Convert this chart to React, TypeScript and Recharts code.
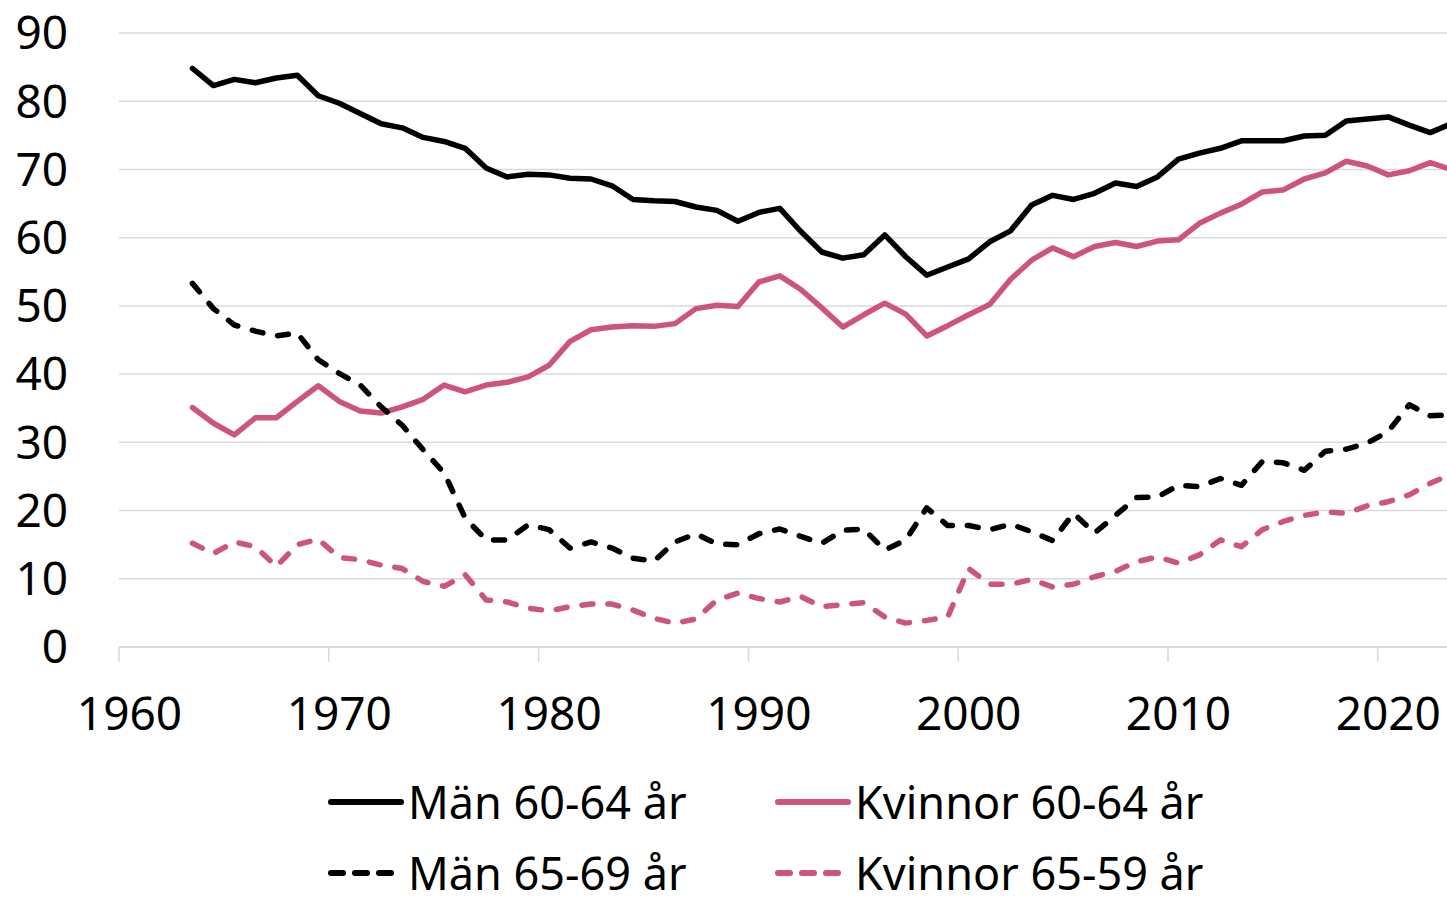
import { LineChart, Line, XAxis, YAxis, CartesianGrid } from 'recharts';

const years = [
  1963, 1964, 1965, 1966, 1967, 1968, 1969, 1970, 1971, 1972,
  1973, 1974, 1975, 1976, 1977, 1978, 1979, 1980, 1981, 1982,
  1983, 1984, 1985, 1986, 1987, 1988, 1989, 1990, 1991, 1992,
  1993, 1994, 1995, 1996, 1997, 1998, 1999, 2000, 2001, 2002,
  2003, 2004, 2005, 2006, 2007, 2008, 2009, 2010, 2011, 2012,
  2013, 2014, 2015, 2016, 2017, 2018, 2019, 2020, 2021, 2022, 2023,
];

const man6064 = [
  84.8, 82.3, 83.2, 82.7, 83.4, 83.8, 80.8, 79.7, 78.2, 76.7,
  76.1, 74.7, 74.1, 73.1, 70.2, 68.9, 69.3, 69.2, 68.7, 68.6,
  67.6, 65.6, 65.4, 65.3, 64.5, 64.0, 62.4, 63.7, 64.3, 60.9,
  57.9, 57.0, 57.5, 60.4, 57.2, 54.5, 55.7, 56.9, 59.4, 61.0,
  64.8, 66.2, 65.6, 66.5, 68.0, 67.5, 68.9, 71.5, 72.4, 73.1,
  74.2, 74.2, 74.2, 74.9, 75.0, 77.1, 77.4, 77.7, 76.5, 75.4, 76.7,
];

const kvinnor6064 = [
  35.1, 32.8, 31.1, 33.6, 33.6, 36.0, 38.3, 36.0, 34.6, 34.3,
  35.2, 36.3, 38.4, 37.4, 38.4, 38.8, 39.6, 41.3, 44.8, 46.5,
  46.9, 47.1, 47.0, 47.4, 49.6, 50.1, 49.9, 53.5, 54.4, 52.4,
  49.7, 46.9, 48.7, 50.4, 48.8, 45.6, 47.1, 48.7, 50.2, 53.9,
  56.7, 58.5, 57.2, 58.7, 59.3, 58.7, 59.5, 59.7, 62.1, 63.6,
  64.9, 66.7, 67.0, 68.6, 69.5, 71.2, 70.5, 69.2, 69.8, 71.0, 70.0,
];

const man6569 = [
  53.3, 49.6, 47.2, 46.3, 45.6, 46.0, 42.1, 40.1, 38.4, 35.2,
  32.5, 28.9, 25.5, 18.9, 15.7, 15.7, 17.9, 17.2, 14.5, 15.4,
  14.5, 13.0, 12.6, 15.4, 16.6, 15.1, 15.0, 16.6, 17.3, 16.2,
  15.2, 17.1, 17.3, 14.2, 15.7, 20.4, 17.8, 17.8, 17.2, 18.0,
  16.9, 15.6, 19.6, 16.7, 19.3, 21.9, 22.0, 23.7, 23.5, 24.7,
  23.7, 27.2, 27.0, 25.9, 28.7, 29.0, 29.9, 31.6, 35.5, 33.9, 34.0,
];

const kvinnor6569 = [
  15.2, 13.7, 15.4, 14.7, 11.8, 15.0, 15.8, 13.1, 12.8, 12.0,
  11.5, 9.6, 8.9, 10.6, 6.9, 6.6, 5.7, 5.3, 5.9, 6.3,
  6.3, 5.4, 4.2, 3.5, 4.1, 6.9, 7.9, 7.1, 6.6, 7.4,
  5.9, 6.2, 6.5, 4.4, 3.5, 3.9, 4.4, 11.5, 9.2, 9.2,
  9.9, 8.8, 9.2, 10.3, 11.1, 12.5, 13.2, 12.3, 13.5, 15.7,
  14.7, 17.2, 18.4, 19.3, 19.8, 19.6, 20.7, 21.3, 22.3, 24.0, 25.3,
];

const yTicks = [0, 10, 20, 30, 40, 50, 60, 70, 80, 90];
// tick marks sit on the boundaries between years, labels on the year itself
const xTickBounds = [1959.5, 1969.5, 1979.5, 1989.5, 1999.5, 2009.5, 2019.5];

const BLACK = '#000000';
const PINK = '#CD5381';
const GRID = '#d9d9d9';
const FONT = '"Noto Sans", sans-serif';
const DASH = '11 15';

const series = [
  { key: 'man6064', name: 'Män 60-64 år', color: BLACK, dashed: false },
  { key: 'kvinnor6064', name: 'Kvinnor 60-64 år', color: PINK, dashed: false },
  { key: 'man6569', name: 'Män 65-69 år', color: BLACK, dashed: true },
  { key: 'kvinnor6569', name: 'Kvinnor 65-59 år', color: PINK, dashed: true },
];

const data = years.map((year, i) => ({
  year,
  man6064: man6064[i],
  kvinnor6064: kvinnor6064[i],
  man6569: man6569[i],
  kvinnor6569: kvinnor6569[i],
}));

const CHART_W = 1447;
const CHART_H = 902;
const X_MIN = 1959.5;
const X_MAX = 2022.8;
const PLOT_LEFT = 119;
const HALF_YEAR = ((CHART_W - PLOT_LEFT) / (X_MAX - X_MIN)) / 2;

const XTick = ({ x, y, payload }: any) => (
  <text
    x={x + HALF_YEAR}
    y={y}
    dy="0.72em"
    textAnchor="middle"
    fontFamily={FONT}
    fontSize={46}
    fill="#000"
  >
    {payload.value + 0.5}
  </text>
);

function LegendItem({ left, top, name, color, dashed }: any) {
  return (
    <div style={{ position: 'absolute', left, top: top - 24, height: 48, display: 'flex', alignItems: 'center' }}>
      <svg width={76} height={10} style={{ display: 'block', marginRight: 4 }}>
        <line
          x1={3}
          x2={73}
          y1={5}
          y2={5}
          stroke={color}
          strokeWidth={6}
          strokeLinecap="round"
          strokeDasharray={dashed ? '12 12' : undefined}
        />
      </svg>
      <span style={{ fontFamily: FONT, fontSize: 45, color: '#000', whiteSpace: 'nowrap', lineHeight: '44px' }}>
        {name}
      </span>
    </div>
  );
}

export default function App() {
  const legendPos = [
    { left: 328, top: 802 },
    { left: 775, top: 802 },
    { left: 328, top: 873 },
    { left: 775, top: 873 },
  ];

  return (
    <div style={{ position: 'relative', width: CHART_W, height: CHART_H, background: '#fff', overflow: 'hidden' }}>
      <style>{`body { margin: 0; overflow: hidden; }`}</style>
      <LineChart
        width={CHART_W}
        height={CHART_H}
        data={data}
        margin={{ top: 33, right: 0, left: 0, bottom: 175 }}
      >
        <CartesianGrid vertical={false} stroke={GRID} strokeWidth={1.5} />
        <XAxis
          dataKey="year"
          type="number"
          domain={[X_MIN, X_MAX]}
          allowDataOverflow
          ticks={xTickBounds}
          interval={0}
          height={80}
          axisLine={{ stroke: GRID, strokeWidth: 1.5 }}
          tickLine={{ stroke: GRID, strokeWidth: 1.5 }}
          tickSize={15}
          tickMargin={35}
          tick={<XTick />}
        />
        <YAxis
          domain={[0, 90]}
          ticks={yTicks}
          interval={0}
          width={PLOT_LEFT}
          axisLine={false}
          tickLine={false}
          tickSize={0}
          tickMargin={51}
          tick={{ fontFamily: FONT, fontSize: 46, fill: '#000' }}
        />
        {series.map((s) => (
          <Line
            key={s.key}
            type="linear"
            dataKey={s.key}
            name={s.name}
            stroke={s.color}
            strokeWidth={5.5}
            strokeDasharray={s.dashed ? DASH : undefined}
            strokeLinecap="round"
            strokeLinejoin="round"
            dot={false}
            activeDot={false}
            isAnimationActive={false}
          />
        ))}
      </LineChart>
      {series.map((s, i) => (
        <LegendItem key={s.key} {...legendPos[i]} name={s.name} color={s.color} dashed={s.dashed} />
      ))}
    </div>
  );
}
